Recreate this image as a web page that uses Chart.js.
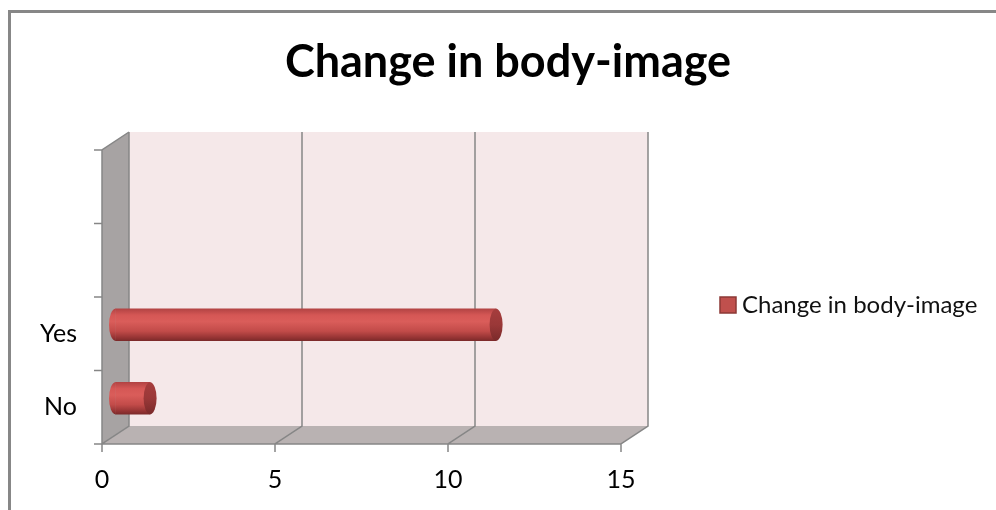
<!DOCTYPE html>
<html lang="en">
  <head>
    <meta charset="UTF-8" />
    <title>Change in body-image</title>
    <style>
      * {
        margin: 0;
        padding: 0;
        box-sizing: border-box;
      }

      body {
        width: 996px;
        height: 510px;
        background: #ffffff;
        overflow: hidden;
      }

      .chart {
        position: relative;
        width: 996px;
        height: 510px;
      }
    </style>
  </head>
  <body>
    <div class="chart">
      <canvas id="myChart"></canvas>
    </div>
    <script src="https://cdn.jsdelivr.net/npm/chart.js"></script>
    <script>
      // datos
      const titulo = "Change in body-image";
      const serie = "Change in body-image";
      const categorias = ["No", "Yes", "", ""];
      const valores = [1, 11, null, null];
      const xMin = 0;
      const xMax = 15;
      const xPaso = 5;

      const fuente = "Lato, 'Open Sans', sans-serif";
      const prof = { dx: 27, dy: -18 }; // profundidad del efecto 3D
      const grueso = 32;

      function degradado(c, yc, h) {
        const g = c.createLinearGradient(0, yc - h, 0, yc + h);
        g.addColorStop(0, "#b24343");
        g.addColorStop(0.2, "#d55755");
        g.addColorStop(0.4, "#da5d5a");
        g.addColorStop(0.7, "#c24b49");
        g.addColorStop(0.9, "#963434");
        g.addColorStop(1, "#7c2a2a");
        return g;
      }

      const marco3d = {
        id: "marco3d",
        beforeDraw(chart) {
          const c = chart.ctx;
          c.save();
          c.strokeStyle = "#878787";
          c.lineWidth = 3;
          c.beginPath();
          c.moveTo(9.5, 520);
          c.lineTo(9.5, 11.5);
          c.lineTo(1000, 11.5);
          c.stroke();
          c.restore();
        },
        beforeDatasetsDraw(chart) {
          const c = chart.ctx;
          const { left, right, top, bottom } = chart.chartArea;
          const { dx, dy } = prof;
          const x = chart.scales.x;
          c.save();
          // pared del fondo
          c.fillStyle = "#f5e8e9";
          c.fillRect(left + dx, top + dy, right - left, bottom - top);
          // pared lateral
          c.fillStyle = "#a7a3a3";
          c.beginPath();
          c.moveTo(left, top);
          c.lineTo(left + dx, top + dy);
          c.lineTo(left + dx, bottom + dy);
          c.lineTo(left, bottom);
          c.closePath();
          c.fill();
          // piso
          c.fillStyle = "#b9b2b2";
          c.beginPath();
          c.moveTo(left, bottom);
          c.lineTo(left + dx, bottom + dy);
          c.lineTo(right + dx, bottom + dy);
          c.lineTo(right, bottom);
          c.closePath();
          c.fill();

          c.strokeStyle = "#868686";
          c.lineWidth = 1.5;
          c.beginPath();
          for (let v = xMin; v <= xMax; v += xPaso) {
            const px = x.getPixelForValue(v);
            c.moveTo(px, bottom + 8);
            c.lineTo(px, bottom);
            c.lineTo(px + dx, bottom + dy);
            c.lineTo(px + dx, top + dy);
          }
          // ejes del frente
          c.moveTo(left, bottom);
          c.lineTo(right, bottom);
          c.moveTo(left, bottom);
          c.lineTo(left, top);
          c.lineTo(left + dx, top + dy);
          const n = categorias.length;
          for (let i = 0; i <= n; i++) {
            const py = top + ((bottom - top) * i) / n;
            c.moveTo(left - 8, py);
            c.lineTo(left, py);
          }
          c.stroke();
          c.restore();

          // las barras se dibujan a media profundidad
          c.save();
          c.translate(dx / 2, dy / 2);
        },
        afterDatasetsDraw(chart) {
          const c = chart.ctx;
          chart.getDatasetMeta(0).data.forEach((bar, i) => {
            if (valores[i] == null) return;
            const h = bar.height / 2;
            const rx = 6.5;
            c.fillStyle = degradado(c, bar.y, h);
            c.beginPath();
            c.ellipse(bar.base, bar.y, rx, h, 0, Math.PI / 2, Math.PI * 1.5);
            c.fill();
            const tapa = c.createLinearGradient(0, bar.y - h, 0, bar.y + h);
            tapa.addColorStop(0, "#a63d3d");
            tapa.addColorStop(0.5, "#9a3838");
            tapa.addColorStop(1, "#7a2a2a");
            c.fillStyle = tapa;
            c.beginPath();
            c.ellipse(bar.x, bar.y, rx, h, 0, 0, Math.PI * 2);
            c.fill();
          });
          c.restore();
        },
        afterDraw(chart) {
          // titulo y leyenda a la manera de Excel
          const c = chart.ctx;
          c.save();
          c.fillStyle = "#000";
          c.font = "bold 45px " + fuente;
          c.textAlign = "center";
          c.textBaseline = "middle";
          c.fillText(titulo, 508, 62);

          c.fillStyle = "#c0504d";
          c.strokeStyle = "#8c3836";
          c.lineWidth = 1.5;
          c.fillRect(720, 297, 16, 16);
          c.strokeRect(720, 297, 16, 16);
          c.fillStyle = "#111";
          c.font = "24px " + fuente;
          c.textAlign = "left";
          c.fillText(serie, 742, 305);
          c.restore();
        },
      };

      const ctx = document.getElementById("myChart").getContext("2d");
      const miGrafico = new Chart(ctx, {
        type: "bar",
        data: {
          labels: categorias,
          datasets: [
            {
              label: serie,
              data: valores,
              barThickness: grueso,
              clip: false,
              borderWidth: 0,
              backgroundColor: (c) => {
                const ch = c.chart;
                if (c.dataIndex === undefined || !ch.chartArea) return "#c0504d";
                const yc = ch.scales.y.getPixelForValue(c.dataIndex);
                return degradado(ch.ctx, yc, grueso / 2);
              },
            },
          ],
        },
        options: {
          indexAxis: "y",
          responsive: true,
          maintainAspectRatio: false,
          animation: false,
          layout: {
            padding: { left: 0, top: 150, right: 375, bottom: 0 },
          },
          scales: {
            x: {
              min: xMin,
              max: xMax,
              ticks: {
                stepSize: xPaso,
                padding: 21,
                color: "#000",
                font: { family: fuente, size: 25 },
              },
              grid: { display: false, drawTicks: false },
              border: { display: false },
              afterFit(axis) {
                axis.height = 66;
              },
            },
            y: {
              reverse: true,
              ticks: {
                padding: 25,
                color: "#000",
                font: { family: fuente, size: 25 },
              },
              grid: { display: false, drawTicks: false },
              border: { display: false },
              afterFit(axis) {
                axis.width = 102;
              },
            },
          },
          plugins: {
            title: { display: false },
            legend: { display: false },
            tooltip: { enabled: false },
          },
        },
        plugins: [marco3d],
      });
    </script>
  </body>
</html>
